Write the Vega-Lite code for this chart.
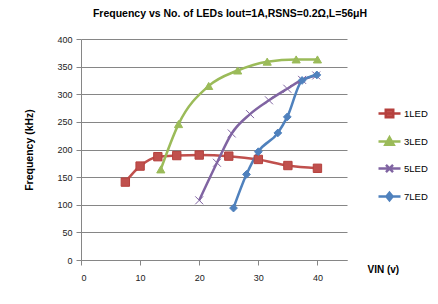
{
  "$schema": "https://vega.github.io/schema/vega-lite/v6.json",
  "width": 266,
  "height": 221,
  "autosize": {"type": "none"},
  "padding": {"left": 81, "top": 39, "right": 91, "bottom": 44},
  "background": "white",
  "title": {
    "text": "Frequency vs No. of LEDs Iout=1A,RSNS=0.2Ω,L=56μH",
    "font": "Liberation Sans",
    "fontSize": 10.5,
    "fontWeight": "bold",
    "color": "#000000",
    "anchor": "middle",
    "dx": 16,
    "offset": 16
  },
  "data": {
    "values": [
      {"series": "1LED", "v": 7.5, "f": 141},
      {"series": "1LED", "v": 10, "f": 170},
      {"series": "1LED", "v": 13, "f": 187},
      {"series": "1LED", "v": 16.2, "f": 189},
      {"series": "1LED", "v": 20, "f": 190},
      {"series": "1LED", "v": 25, "f": 188},
      {"series": "1LED", "v": 30, "f": 182},
      {"series": "1LED", "v": 35, "f": 171},
      {"series": "1LED", "v": 40, "f": 166},
      {"series": "3LED", "v": 13.5, "f": 164},
      {"series": "3LED", "v": 16.5, "f": 246},
      {"series": "3LED", "v": 21.6, "f": 315},
      {"series": "3LED", "v": 26.5, "f": 343},
      {"series": "3LED", "v": 31.5, "f": 359},
      {"series": "3LED", "v": 36.4, "f": 363},
      {"series": "3LED", "v": 40, "f": 363},
      {"series": "5LED", "v": 20, "f": 108},
      {"series": "5LED", "v": 23, "f": 176},
      {"series": "5LED", "v": 25.5, "f": 229},
      {"series": "5LED", "v": 28.6, "f": 264},
      {"series": "5LED", "v": 31.8, "f": 289},
      {"series": "5LED", "v": 34.9, "f": 310},
      {"series": "5LED", "v": 37.4, "f": 326},
      {"series": "5LED", "v": 39.8, "f": 334},
      {"series": "7LED", "v": 25.8, "f": 94},
      {"series": "7LED", "v": 28, "f": 155},
      {"series": "7LED", "v": 30, "f": 196},
      {"series": "7LED", "v": 33.3, "f": 230},
      {"series": "7LED", "v": 34.9, "f": 259},
      {"series": "7LED", "v": 37.4, "f": 325},
      {"series": "7LED", "v": 39.9, "f": 335}
    ]
  },
  "encoding": {
    "x": {
      "field": "v",
      "type": "quantitative",
      "scale": {"domain": [0, 45], "nice": false, "zero": false},
      "axis": {
        "values": [0, 10, 20, 30, 40],
        "grid": false,
        "domainColor": "#868686",
        "tickColor": "#868686",
        "tickSize": 5,
        "labelFont": "Liberation Sans",
        "labelFontSize": 9,
        "labelColor": "#222222",
        "labelPadding": 8,
        "title": "VIN (v)",
        "titleFont": "Liberation Sans",
        "titleFontSize": 10,
        "titleFontWeight": "bold",
        "titleColor": "#000000",
        "titleAnchor": "start",
        "titleAlign": "left",
        "titleBaseline": "middle",
        "titleAngle": 0,
        "titleX": 286,
        "titleY": 9
      }
    },
    "y": {
      "field": "f",
      "type": "quantitative",
      "scale": {"domain": [0, 400], "nice": false},
      "axis": {
        "values": [0, 50, 100, 150, 200, 250, 300, 350, 400],
        "grid": true,
        "gridColor": "#868686",
        "gridWidth": 1,
        "domainColor": "#868686",
        "tickColor": "#868686",
        "tickSize": 5,
        "labelFont": "Liberation Sans",
        "labelFontSize": 9,
        "labelColor": "#222222",
        "labelPadding": 4,
        "title": "Frequency (kHz)",
        "titleFont": "Liberation Sans",
        "titleFontSize": 10.5,
        "titleFontWeight": "bold",
        "titleColor": "#000000",
        "titlePadding": 22
      }
    }
  },
  "layer": [
    {
      "mark": {"type": "line", "strokeWidth": 2.5, "interpolate": "monotone"},
      "encoding": {
        "color": {
          "field": "series",
          "type": "nominal",
          "scale": {"domain": ["1LED", "3LED", "5LED", "7LED"], "range": ["#C0504D", "#9BBB59", "#8064A2", "#4F81BD"]},
          "legend": null
        },
        "detail": {"field": "series"}
      }
    },
    {
      "mark": {"type": "point", "filled": true, "strokeWidth": 1, "opacity": 1},
      "encoding": {
        "fill": {
          "field": "series",
          "type": "nominal",
          "scale": {"domain": ["1LED", "3LED", "5LED", "7LED"], "range": ["#C0504D", "#9BBB59", "#8064A2", "#4F81BD"]},
          "legend": null
        },
        "stroke": {
          "field": "series",
          "type": "nominal",
          "scale": {"domain": ["1LED", "3LED", "5LED", "7LED"], "range": ["#B5403D", "#9BBB59", "#8064A2", "#4F81BD"]},
          "legend": null
        },
        "shape": {
          "field": "series",
          "type": "nominal",
          "scale": {"domain": ["1LED", "3LED", "5LED", "7LED"], "range": ["square", "triangle-up", "M-1,-1L1,1M-1,1L1,-1", "diamond"]},
          "legend": null
        },
        "size": {
          "field": "series",
          "type": "nominal",
          "scale": {"domain": ["1LED", "3LED", "5LED", "7LED"], "range": [70, 60, 30, 45]},
          "legend": null
        }
      }
    },
    {
      "transform": [{"filter": "false"}],
      "mark": {"type": "point", "filled": true, "strokeWidth": 2.5, "opacity": 1},
      "encoding": {
        "fill": {
          "field": "series",
          "type": "nominal",
          "scale": {"domain": ["1LED", "3LED", "5LED", "7LED"], "range": ["#C0504D", "#9BBB59", "#8064A2", "#4F81BD"]},
          "legend": {
            "title": null,
            "orient": "none",
            "legendX": 296,
            "legendY": 62,
            "symbolSize": 484,
            "symbolStrokeWidth": 2.5,
            "rowPadding": 6,
            "labelFont": "Liberation Sans",
            "labelFontSize": 9.5,
            "labelColor": "#000000",
            "labelOffset": 2
          }
        },
        "stroke": {
          "field": "series",
          "type": "nominal",
          "scale": {"domain": ["1LED", "3LED", "5LED", "7LED"], "range": ["#C0504D", "#9BBB59", "#8064A2", "#4F81BD"]},
          "legend": {
            "title": null,
            "orient": "none",
            "legendX": 296,
            "legendY": 62,
            "symbolSize": 484,
            "symbolStrokeWidth": 2.5,
            "rowPadding": 6,
            "labelFont": "Liberation Sans",
            "labelFontSize": 9.5,
            "labelColor": "#000000",
            "labelOffset": 2
          }
        },
        "shape": {
          "field": "series",
          "type": "nominal",
          "scale": {"domain": ["1LED", "3LED", "5LED", "7LED"], "range": [
            "M-1,0H1M-0.34,-0.34H0.34V0.34H-0.34Z",
            "M-1,0H1M0,-0.38L0.38,0.3H-0.38Z",
            "M-1,0H1M-0.32,-0.32L0.32,0.32M-0.32,0.32L0.32,-0.32",
            "M-1,0H1M0,-0.34L0.28,0L0,0.34L-0.28,0Z"
          ]},
          "legend": {
            "title": null,
            "orient": "none",
            "legendX": 296,
            "legendY": 62,
            "symbolSize": 484,
            "symbolStrokeWidth": 2.5,
            "rowPadding": 6,
            "labelFont": "Liberation Sans",
            "labelFontSize": 9.5,
            "labelColor": "#000000",
            "labelOffset": 2
          }
        }
      }
    }
  ],
  "resolve": {"scale": {"shape": "independent", "size": "independent"}, "legend": {"shape": "independent", "fill": "independent", "stroke": "independent"}},
  "config": {
    "view": {"stroke": null},
    "axis": {"domainWidth": 1, "tickWidth": 1}
  }
}
